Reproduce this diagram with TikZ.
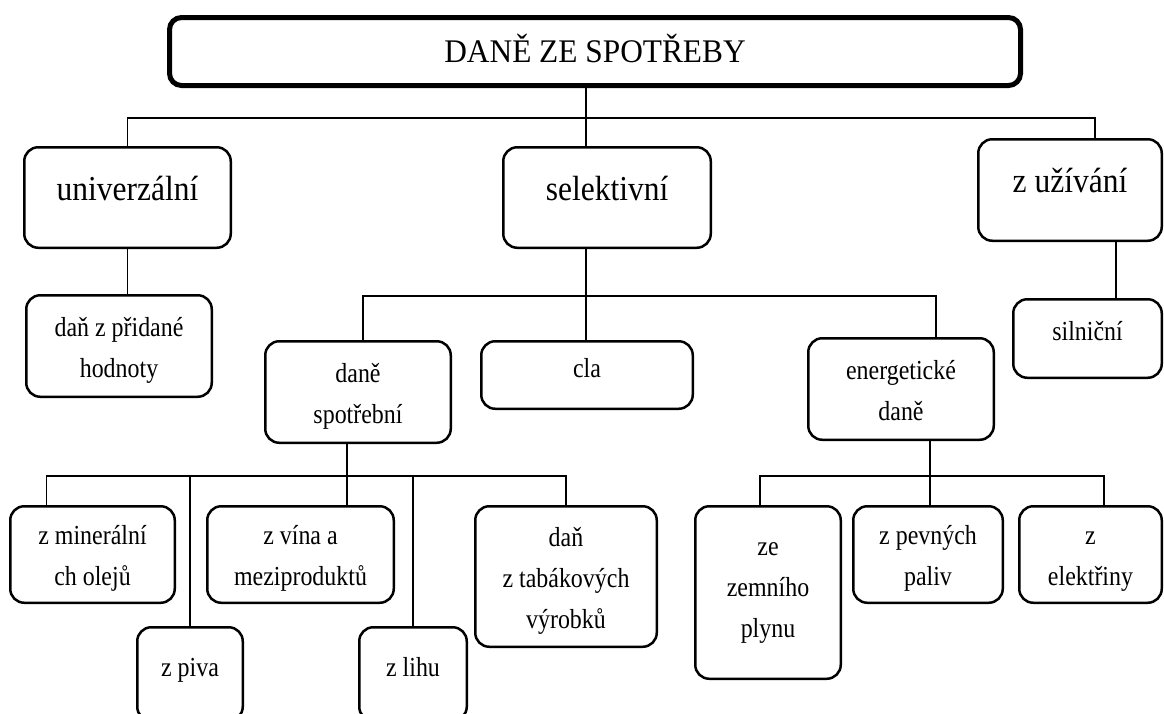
\documentclass[tikz,border=0pt]{standalone}
\usepackage{fontspec}
\setmainfont{Liberation Serif}
\newfontfamily\boxfont[FakeStretch=0.87]{Liberation Serif}
\newfontfamily\topfont[FakeStretch=0.9]{Liberation Serif}
\newfontfamily\titlefont[FakeStretch=0.95]{Liberation Serif}

\begin{document}
\begin{tikzpicture}[x=1pt, y=-1pt, line width=1.5pt,
	main node/.style={draw, line width=2.5pt, rounded corners=14pt, align=center, inner sep=0pt,
		text height=24pt, text depth=20pt, font=\boxfont\fontsize{27.5}{41}\selectfont},
	big node/.style={main node, text depth=19pt, font=\topfont\fontsize{35}{40}\selectfont},
	two lines/.style={text height=70pt, text depth=8pt},
	three lines/.style={text height=110pt, text depth=7pt}]

	\useasboundingbox (0,0) rectangle (1164,713);

	\node[big node, line width=5pt, rounded corners=12pt, text depth=3pt, font=\titlefont\fontsize{33}{38}\selectfont,
		minimum width=851pt, minimum height=68pt] (0) at (595,51.5) {DANĚ ZE SPOTŘEBY};

	\node[big node, minimum width=206.5pt, minimum height=100.5pt] (1) at (127.5,197.5) {univerzální};
	\node[big node, minimum width=207.5pt, minimum height=100.5pt] (2) at (607,197.5) {selektivní};
	\node[big node, minimum width=183.5pt, minimum height=101.5pt] (3) at (1070,190) {z užívání};

	\node[main node, two lines, minimum width=185.5pt, minimum height=101.5pt] (4) at (119,346) {daň z přidané\\hodnoty};
	\node[main node, two lines, minimum width=185.5pt, minimum height=101.5pt] (5) at (358,392) {daně\\spotřební};
	\node[main node, minimum width=211.5pt, minimum height=67.5pt] (6) at (587,375) {cla};
	\node[main node, two lines, minimum width=185.5pt, minimum height=101.5pt] (7) at (901,389) {energetické\\daně};
	\node[main node, minimum width=148.5pt, minimum height=78.5pt] (8) at (1087.5,338.5) {silniční};

	\node[main node, two lines, minimum width=164.5pt, minimum height=96.5pt] (9) at (92.5,554.5) {z minerální\\ch olejů};
	\node[main node, minimum width=105.5pt, minimum height=93.5pt] (10) at (190,674) {z piva};
	\node[main node, two lines, minimum width=186.5pt, minimum height=96.5pt] (11) at (300.5,554.5) {z vína a\\meziproduktů};
	\node[main node, minimum width=107.5pt, minimum height=93.5pt] (12) at (413,674) {z lihu};
	\node[main node, three lines, minimum width=181.5pt, minimum height=140.5pt] (13) at (566,576.5) {daň\\z tabákových\\výrobků};

	\node[main node, three lines, text height=96pt, minimum width=145.5pt, minimum height=172.5pt] (14) at (768,592.5) {ze\\zemního\\plynu};
	\node[main node, two lines, minimum width=149.5pt, minimum height=96.5pt] (15) at (928,554.5) {z pevných\\paliv};
	\node[main node, two lines, minimum width=142.5pt, minimum height=96.5pt] (16) at (1090.5,554.5) {z\\elektřiny};

	\coordinate (a) at (586,118);
	\coordinate (b) at (586,296);
	\coordinate (c) at (347,476);
	\coordinate (d) at (930,476);

	\draw (0.south -| a) -- (2.north -| a);
	\draw (1.north) |- (a) -| ([xshift=25pt]3.north);
	\draw (1.south) -- (1.south |- 4.north);
	\draw (2.south -| b) -- (6.north -| b);
	\draw ([xshift=5pt]5.north) |- (b) -| ([xshift=35pt]7.north);
	\draw ([xshift=46pt]3.south) -- ([xshift=46pt]3.south |- 8.north);
	\draw (5.south -| c) -- (11.north -| c);
	\draw ([xshift=-46pt]9.north) |- (c) -| (13.north);
	\draw (10.north) -- (10.north |- c);
	\draw (12.north) -- (12.north |- c);
	\draw (7.south -| d) -- (15.north -| d);
	\draw ([xshift=-8pt]14.north) |- (d) -| ([xshift=13.5pt]16.north);
\end{tikzpicture}
\end{document}
